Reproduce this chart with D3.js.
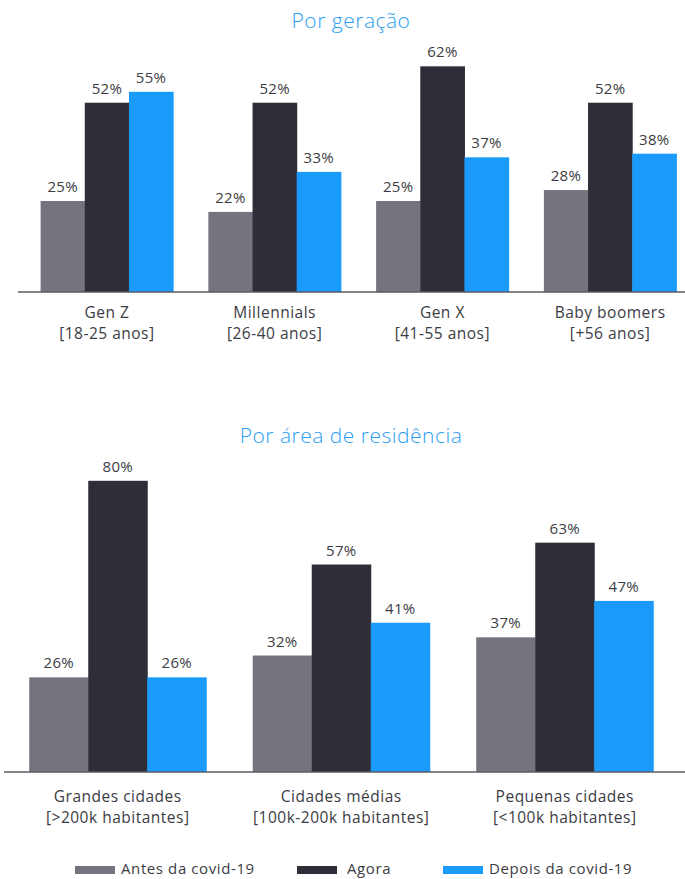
<!DOCTYPE html>
<html>
<head>
<meta charset="utf-8">
<script src="https://cdn.jsdelivr.net/npm/d3@7"></script>
<style>
  html, body { margin: 0; padding: 0; background: #fff; }
  svg { display: block; font-family: "Open Sans", sans-serif; }
</style>
</head>
<body>
<svg id="chart" width="685" height="879"></svg>
<script>
// Series names and colours
const seriesNames = ["Antes da covid-19", "Agora", "Depois da covid-19"];
const seriesColors = ["#74737e", "#2e2e38", "#1a9bfb"];

// Panel 1: by generation
const genCategories = [["Gen Z", "[18-25 anos]"], ["Millennials", "[26-40 anos]"], ["Gen X", "[41-55 anos]"], ["Baby boomers", "[+56 anos]"]];
const genAntes = [25, 22, 25, 28];
const genAgora = [52, 52, 62, 52];
const genDepois = [55, 33, 37, 38];

// Panel 2: by area of residence
const areaCategories = [["Grandes cidades", "[>200k habitantes]"], ["Cidades médias", "[100k-200k habitantes]"], ["Pequenas cidades", "[<100k habitantes]"]];
const areaAntes = [26, 32, 37];
const areaAgora = [80, 57, 63];
const areaDepois = [26, 41, 47];

const svg = d3.select("#chart");
const textColor = "#3c3c44";
const pxPerPct = 3.64;

function panel(cfg) {
  const g = svg.append("g");
  const series = [cfg.antes, cfg.agora, cfg.depois];
  const idx = d3.range(cfg.categories.length);

  g.append("text")
    .attr("x", 351).attr("y", cfg.titleY)
    .attr("text-anchor", "middle")
    .attr("fill", "#2b9ef3")
    .style("font-size", "21px")
    .style("letter-spacing", "0.5px")
    .style("font-weight", 300)
    .text(cfg.title);

  const x0 = d3.scaleBand().domain(idx).range(cfg.xRange)
    .paddingInner(cfg.padInner).paddingOuter(cfg.padInner / 2);
  const x1 = d3.scaleBand().domain(d3.range(3)).range([0, x0.bandwidth()]);
  const y = d3.scaleLinear().domain([0, 100]).range([cfg.baseline, cfg.baseline - 100 * pxPerPct]);

  const groups = g.selectAll("g.grp").data(idx).join("g")
    .attr("transform", i => `translate(${x0(i)},0)`);

  groups.selectAll("rect").data(i => series.map((s, k) => ({ k, v: s[i] }))).join("rect")
    .attr("x", d => x1(d.k))
    .attr("width", x1.bandwidth() + 0.5)
    .attr("y", d => y(d.v))
    .attr("height", d => y(0) - y(d.v))
    .attr("fill", d => seriesColors[d.k]);

  groups.selectAll("text.val").data(i => series.map((s, k) => ({ k, v: s[i] }))).join("text")
    .attr("class", "val")
    .attr("x", d => x1(d.k) + x1.bandwidth() / 2)
    .attr("y", d => y(d.v) - 9)
    .attr("text-anchor", "middle")
    .attr("fill", textColor)
    .style("font-size", "15px")
    .style("letter-spacing", "0.3px")
    .text(d => d.v + "%");

  // baseline axis
  const axis = d3.axisBottom(x0).tickSize(0).tickFormat("");
  const ax = g.append("g").attr("transform", `translate(0,${cfg.baseline})`).call(axis);
  ax.select(".domain").attr("d", `M${cfg.axisX[0]},0H${cfg.axisX[1]}`)
    .attr("stroke", "#5a5a62").attr("stroke-width", 1.5);

  // category labels
  groups.each(function (i) {
    const t = d3.select(this).append("text")
      .attr("x", x0.bandwidth() / 2)
      .attr("text-anchor", "middle")
      .attr("fill", textColor)
      .style("font-size", "15.5px")
      .style("letter-spacing", "0.5px");
    cfg.categories[i].forEach((line, j) => {
      t.append("tspan").attr("x", x0.bandwidth() / 2)
        .attr("y", cfg.baseline + cfg.labelDy + j * 21)
        .text(line);
    });
  });
}

panel({
  title: "Por geração", titleY: 28,
  categories: genCategories, antes: genAntes, agora: genAgora, depois: genDepois,
  baseline: 292, xRange: [23, 694], padInner: 0.21, axisX: [18, 685], labelDy: 26
});

panel({
  title: "Por área de residência", titleY: 443,
  categories: areaCategories, antes: areaAntes, agora: areaAgora, depois: areaDepois,
  baseline: 772, xRange: [6, 676.5], padInner: 0.208, axisX: [4, 685], labelDy: 30
});

// Legend
const legendX = [75, 297, 443];
const legend = svg.append("g");
seriesNames.forEach((name, k) => {
  legend.append("rect")
    .attr("x", legendX[k]).attr("y", 866)
    .attr("width", 40).attr("height", 8)
    .attr("fill", seriesColors[k]);
  legend.append("text")
    .attr("x", legendX[k] + (k === 1 ? 50 : 46)).attr("y", 874)
    .attr("fill", textColor)
    .style("font-size", "15px")
    .style("letter-spacing", "0.6px")
    .text(name);
});
</script>
</body>
</html>
